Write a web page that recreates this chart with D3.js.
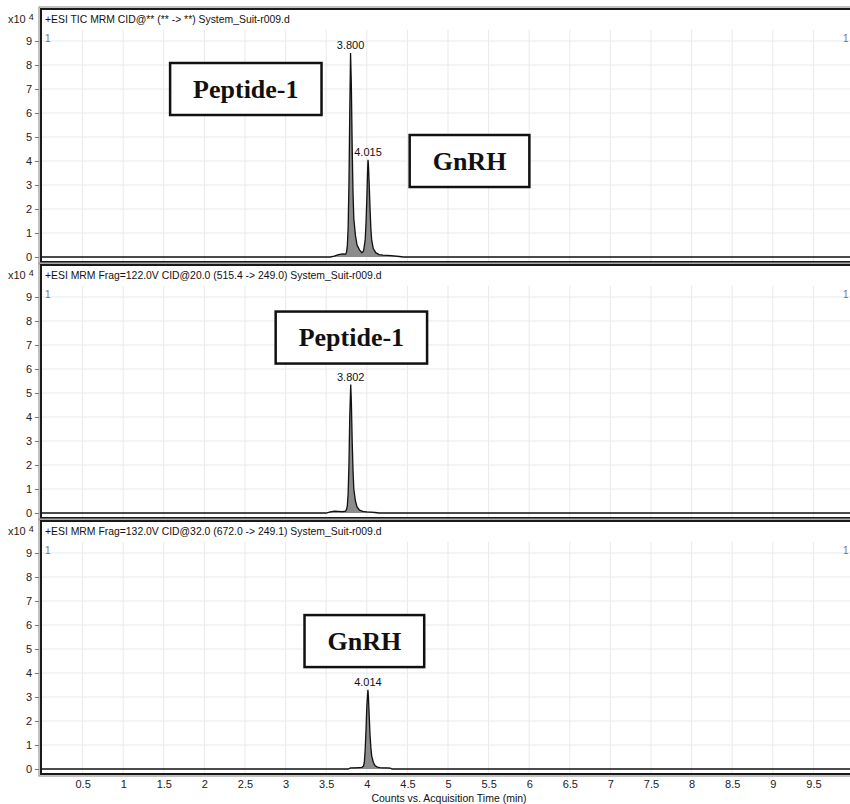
<!DOCTYPE html>
<html>
<head>
<meta charset="utf-8">
<script src="https://cdn.jsdelivr.net/npm/d3@7"></script>
<style>
  body { margin: 0; background: #fff; }
  svg { display: block; font-family: "Liberation Sans", Arial, sans-serif; }
</style>
</head>
<body>
<div id="chart"></div>
<script>
// chromatogram data, counts in units of 10^4, time in minutes
const ticTime = [0, 3.55, 3.60, 3.65, 3.70, 3.74, 3.75, 3.76, 3.77, 3.78, 3.79, 3.80, 3.81, 3.82, 3.83, 3.84, 3.86, 3.88, 3.91, 3.94, 3.96, 3.98, 3.99, 4.00, 4.01, 4.015, 4.02, 4.03, 4.04, 4.05, 4.06, 4.08, 4.11, 4.15, 4.20, 4.30, 4.40, 4.45, 10];
const ticCounts = [0, 0, 0.04, 0.10, 0.13, 0.12, 0.2, 0.45, 1.2, 3.0, 6.0, 8.5, 7.1, 4.6, 2.7, 1.6, 0.9, 0.5, 0.3, 0.18, 0.25, 0.7, 1.4, 2.4, 3.6, 4.05, 3.85, 3.0, 2.0, 1.2, 0.7, 0.35, 0.18, 0.1, 0.08, 0.06, 0.02, 0, 0];

const pep1Time = [0, 3.50, 3.55, 3.60, 3.65, 3.70, 3.74, 3.75, 3.76, 3.77, 3.78, 3.79, 3.802, 3.81, 3.82, 3.83, 3.84, 3.86, 3.88, 3.91, 3.95, 4.00, 4.05, 4.10, 4.15, 10];
const pep1Counts = [0, 0, 0.05, 0.08, 0.07, 0.06, 0.08, 0.15, 0.3, 0.8, 2.0, 4.0, 5.35, 4.6, 3.0, 1.8, 1.0, 0.5, 0.25, 0.12, 0.07, 0.05, 0.04, 0.02, 0, 0];

const gnrhTime = [0, 3.77, 3.80, 3.85, 3.90, 3.94, 3.96, 3.97, 3.98, 3.99, 4.00, 4.014, 4.02, 4.03, 4.04, 4.05, 4.06, 4.08, 4.10, 4.13, 4.16, 4.20, 4.25, 4.29, 4.31, 10];
const gnrhCounts = [0, 0, 0.05, 0.05, 0.06, 0.07, 0.12, 0.3, 0.8, 1.6, 2.6, 3.3, 3.0, 2.2, 1.4, 0.9, 0.55, 0.28, 0.14, 0.08, 0.06, 0.05, 0.05, 0.04, 0, 0];

const panelTitles = [
  '+ESI TIC MRM CID@** (** -> **) System_Suit-r009.d',
  '+ESI MRM Frag=122.0V CID@20.0 (515.4 -> 249.0) System_Suit-r009.d',
  '+ESI MRM Frag=132.0V CID@32.0 (672.0 -> 249.1) System_Suit-r009.d'
];

// peak apex labels
const peakPanel = [0, 0, 1, 2];
const peakTime = [3.800, 4.015, 3.802, 4.014];
const peakCounts = [8.5, 4.05, 5.35, 3.3];
const peakLabel = ['3.800', '4.015', '3.802', '4.014'];

// boxed compound names: panel, centre time, centre counts
const boxPanel = [0, 0, 1, 2];
const boxText = ['Peptide-1', 'GnRH', 'Peptide-1', 'GnRH'];
const boxTime = [2.51, 5.265, 3.81, 3.97];
const boxCounts = [7.0, 4.0, 7.31, 5.33];

const xTicks = [0.5, 1, 1.5, 2, 2.5, 3, 3.5, 4, 4.5, 5, 5.5, 6, 6.5, 7, 7.5, 8, 8.5, 9, 9.5];
const yTicks = [0, 1, 2, 3, 4, 5, 6, 7, 8, 9];

const traces = [
  ticTime.map((t, i) => ({t: t, v: ticCounts[i]})),
  pep1Time.map((t, i) => ({t: t, v: pep1Counts[i]})),
  gnrhTime.map((t, i) => ({t: t, v: gnrhCounts[i]}))
];

// layout
const width = 850, height = 804;
const panelTops = [9, 265, 521];
const panelH = 253;
const frameL = 41;

const svg = d3.select('#chart').append('svg')
  .attr('width', width)
  .attr('height', height);

svg.append('defs').append('clipPath')
  .attr('id', 'plotclip')
  .append('rect')
  .attr('x', frameL + 1).attr('y', 0)
  .attr('width', width).attr('height', height);

const x = d3.scaleLinear().domain([0, 10]).range([42, 854]);

panelTops.forEach((top, p) => {
  const y = d3.scaleLinear().domain([0, 9]).range([top + 248, top + 32]);
  const g = svg.append('g').attr('class', 'panel');
  const plot = g.append('g').attr('clip-path', 'url(#plotclip)');

  // grid
  plot.selectAll('.vgrid')
    .data(xTicks)
    .join('line')
    .attr('x1', d => x(d)).attr('x2', d => x(d))
    .attr('y1', top + 21).attr('y2', top + panelH)
    .attr('stroke', '#e9e9e9').attr('stroke-width', 1);
  plot.selectAll('.hgrid')
    .data(yTicks.filter(d => d > 0))
    .join('line')
    .attr('x1', frameL).attr('x2', width)
    .attr('y1', d => y(d)).attr('y2', d => y(d))
    .attr('stroke', '#e9e9e9').attr('stroke-width', 1);

  // trace
  const area = d3.area()
    .x(d => x(d.t))
    .y0(y(0))
    .y1(d => y(d.v));
  const line = d3.line()
    .x(d => x(d.t))
    .y(d => y(d.v));
  plot.append('path')
    .datum(traces[p])
    .attr('d', area)
    .attr('fill', '#8c8c8c');
  plot.append('path')
    .datum(traces[p])
    .attr('d', line)
    .attr('fill', 'none')
    .attr('stroke', '#111')
    .attr('stroke-width', 1.3);

  // frame, double line
  g.append('rect')
    .attr('x', frameL - 2).attr('y', top - 2)
    .attr('width', width + 10).attr('height', panelH + 4)
    .attr('fill', 'none').attr('stroke', '#9a9a9a').attr('stroke-width', 1.2);
  g.append('rect')
    .attr('x', frameL).attr('y', top)
    .attr('width', width + 10).attr('height', panelH)
    .attr('fill', 'none').attr('stroke', '#1a1a1a').attr('stroke-width', 2);

  // y axis
  const axisY = d3.axisLeft(y)
    .tickValues(yTicks)
    .tickSize(4)
    .tickPadding(3)
    .tickFormat(d3.format('d'));
  const ay = g.append('g')
    .attr('transform', `translate(${frameL - 2},0)`)
    .call(axisY);
  ay.select('.domain').remove();
  ay.selectAll('.tick line').attr('stroke', '#777');
  ay.selectAll('.tick text')
    .attr('font-size', 11)
    .attr('fill', '#222')
    .attr('font-family', '"Liberation Sans", Arial, sans-serif');

  // multiplier and title
  const mult = g.append('text')
    .attr('x', 8).attr('y', top + 14)
    .attr('font-size', 11).attr('fill', '#222');
  mult.append('tspan').text('x10');
  mult.append('tspan').attr('dx', 3).attr('dy', -3).attr('font-size', 9).text('4');

  g.append('text')
    .attr('x', 45).attr('y', top + 14)
    .attr('font-size', 10.4).attr('fill', '#111')
    .text(panelTitles[p]);

  // small "1" markers
  g.append('text')
    .attr('x', 45).attr('y', top + 33)
    .attr('font-size', 10).attr('fill', '#777')
    .text('1');
  g.append('text')
    .attr('x', 843).attr('y', top + 33)
    .attr('font-size', 10).attr('fill', '#777')
    .text('1');

  // peak labels
  peakPanel.forEach((pp, i) => {
    if (pp !== p) return;
    g.append('text')
      .attr('x', x(peakTime[i]))
      .attr('y', y(peakCounts[i]) - 4)
      .attr('text-anchor', 'middle')
      .attr('font-size', 11).attr('fill', '#111')
      .text(peakLabel[i]);
  });

  // boxed names
  boxPanel.forEach((bp, i) => {
    if (bp !== p) return;
    const cx = x(boxTime[i]), cy = y(boxCounts[i]);
    const bg = g.append('g');
    const rect = bg.append('rect');
    const t = bg.append('text')
      .attr('x', cx).attr('y', cy + 8.5)
      .attr('text-anchor', 'middle')
      .attr('font-family', '"Liberation Serif", "Times New Roman", serif')
      .attr('font-weight', 'bold')
      .attr('font-size', 26)
      .attr('fill', '#111')
      .text(boxText[i]);
    const tw = t.node().getComputedTextLength();
    rect.attr('x', cx - tw / 2 - 23).attr('y', cy - 26)
      .attr('width', tw + 46).attr('height', 52)
      .attr('fill', '#fff').attr('stroke', '#111').attr('stroke-width', 2.5);
  });
});

// bottom x axis
const axisX = d3.axisBottom(x)
  .tickValues(xTicks)
  .tickSize(0)
  .tickPadding(4)
  .tickFormat(d => d);
const ax = svg.append('g')
  .attr('transform', `translate(0,${panelTops[2] + panelH + 2})`)
  .call(axisX);
ax.select('.domain').remove();
ax.selectAll('.tick text')
  .attr('font-size', 11)
  .attr('fill', '#222')
  .attr('font-family', '"Liberation Sans", Arial, sans-serif');

svg.append('text')
  .attr('x', 449).attr('y', 802)
  .attr('text-anchor', 'middle')
  .attr('font-size', 10.5).attr('fill', '#111')
  .text('Counts vs. Acquisition Time (min)');
</script>
</body>
</html>
